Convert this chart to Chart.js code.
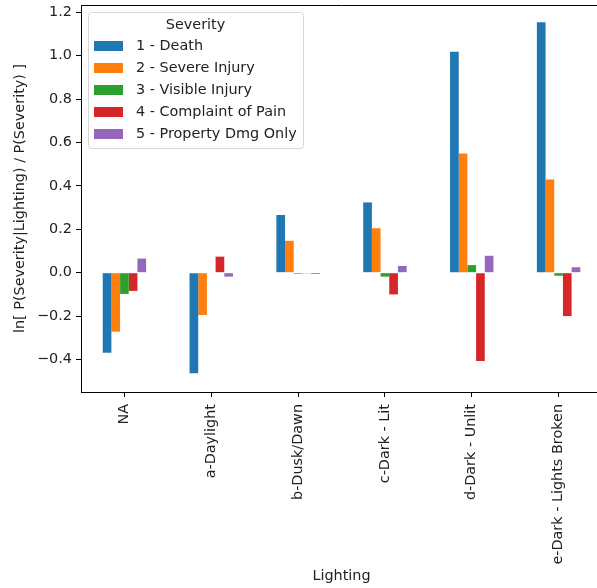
<!DOCTYPE html>
<html>
<head>
<meta charset="utf-8">
<script src="https://cdn.jsdelivr.net/npm/chart.js@4.4.1/dist/chart.umd.min.js"></script>
<style>
    html, body { margin: 0; padding: 0; background: #fff; overflow: hidden; }
    #wrap { position: relative; width: 597px; height: 588px; overflow: hidden; }
    canvas { display: block; }
</style>
</head>
<body>
<div id="wrap">
<canvas id="bar_chart" width="604" height="588"></canvas>
</div>
<script>
// categories (Lighting) and log-ratio values per severity
var categories = ["NA", "a-Daylight", "b-Dusk/Dawn", "c-Dark - Lit", "d-Dark - Unlit", "e-Dark - Lights Broken"];
var death = [-0.369, -0.464, 0.266, 0.324, 1.018, 1.154];
var severeInjury = [-0.272, -0.195, 0.147, 0.205, 0.550, 0.430];
var visibleInjury = [-0.098, -0.002, -0.005, -0.018, 0.035, -0.014];
var complaintOfPain = [-0.084, 0.074, -0.003, -0.100, -0.407, -0.200];
var propertyDmgOnly = [0.065, -0.018, -0.006, 0.031, 0.078, 0.025];
var yTicks = [-0.4, -0.2, 0.0, 0.2, 0.4, 0.6, 0.8, 1.0, 1.2];

Chart.defaults.font.family = "'DejaVu Sans', sans-serif";
Chart.defaults.font.size = 14.4;
Chart.defaults.color = '#000';

// matplotlib-style legend drawn inside the plot area, plus the top spine
var boxLegend = {
    id: 'boxLegend',
    afterDraw: function (chart) {
        var ctx = chart.ctx;
        var area = chart.chartArea;
        ctx.save();
        ctx.strokeStyle = '#000';
        ctx.lineWidth = 1;
        ctx.beginPath();
        ctx.moveTo(area.left, area.top + 0.5);
        ctx.lineTo(area.right, area.top + 0.5);
        ctx.stroke();

        var x = 88, y = 12, w = 215, h = 136, r = 3;
        ctx.fillStyle = 'rgba(255,255,255,0.8)';
        ctx.strokeStyle = '#d6d6d6';
        ctx.beginPath();
        ctx.roundRect(x + 0.5, y + 0.5, w, h, r);
        ctx.fill();
        ctx.stroke();

        ctx.font = "14.4px 'DejaVu Sans', sans-serif";
        ctx.fillStyle = '#222';
        ctx.textAlign = 'center';
        ctx.textBaseline = 'middle';
        ctx.fillText('Severity', x + w / 2, 25);

        ctx.textAlign = 'left';
        chart.data.datasets.forEach(function (ds, i) {
            var cy = 46 + i * 22;
            ctx.fillStyle = ds.backgroundColor;
            ctx.fillRect(94, cy - 5, 29, 10);
            ctx.fillStyle = '#222';
            ctx.fillText(ds.label, 136, cy);
        });
        ctx.restore();
    }
};

new Chart(document.getElementById("bar_chart").getContext("2d"), {
    type: 'bar',
    data: {
        labels: categories,
        datasets: [{
            label: "1 - Death",
            data: death,
            backgroundColor: '#1f77b4'
        }, {
            label: "2 - Severe Injury",
            data: severeInjury,
            backgroundColor: '#ff7f0e'
        }, {
            label: "3 - Visible Injury",
            data: visibleInjury,
            backgroundColor: '#2ca02c'
        }, {
            label: "4 - Complaint of Pain",
            data: complaintOfPain,
            backgroundColor: '#d62728'
        }, {
            label: "5 - Property Dmg Only",
            data: propertyDmgOnly,
            backgroundColor: '#9467bd'
        }]
    },
    options: {
        responsive: false,
        animation: false,
        categoryPercentage: 0.5,
        barPercentage: 1.0,
        layout: { padding: { top: 5, right: 2, left: 0, bottom: 0 } },
        plugins: {
            legend: { display: false },
            tooltip: { enabled: false }
        },
        scales: {
            x: {
                offset: true,
                grid: { display: true, offset: false, drawOnChartArea: false, drawTicks: true, tickLength: 5, color: '#000' },
                border: { display: true, color: '#000', width: 1 },
                ticks: { minRotation: 90, maxRotation: 90, autoSkip: false, padding: 7, color: '#222' },
                title: { display: true, text: 'Lighting', color: '#222', padding: { top: 4, bottom: 3 } },
                afterFit: function (scale) {
                    scale.height = 196;
                    scale.paddingLeft = 0;
                    scale.paddingRight = 0;
                }
            },
            y: {
                min: -0.55,
                max: 1.234,
                grid: { display: true, drawOnChartArea: false, drawTicks: true, tickLength: 5, color: '#000' },
                border: { display: true, color: '#000', width: 1 },
                ticks: {
                    padding: 4,
                    color: '#222',
                    callback: function (v) { return v.toFixed(1).replace('-', '\u2212'); }
                },
                afterBuildTicks: function (scale) {
                    scale.ticks = yTicks.map(function (v) { return { value: v }; });
                },
                title: { display: true, text: 'ln[ P(Severity|Lighting) / P(Severity) ]', color: '#222', padding: { top: 12, bottom: 4 } },
                afterFit: function (scale) {
                    scale.width = 81;
                    scale.paddingTop = 0;
                    scale.paddingBottom = 0;
                }
            }
        }
    },
    plugins: [boxLegend]
});
</script>
</body>
</html>
